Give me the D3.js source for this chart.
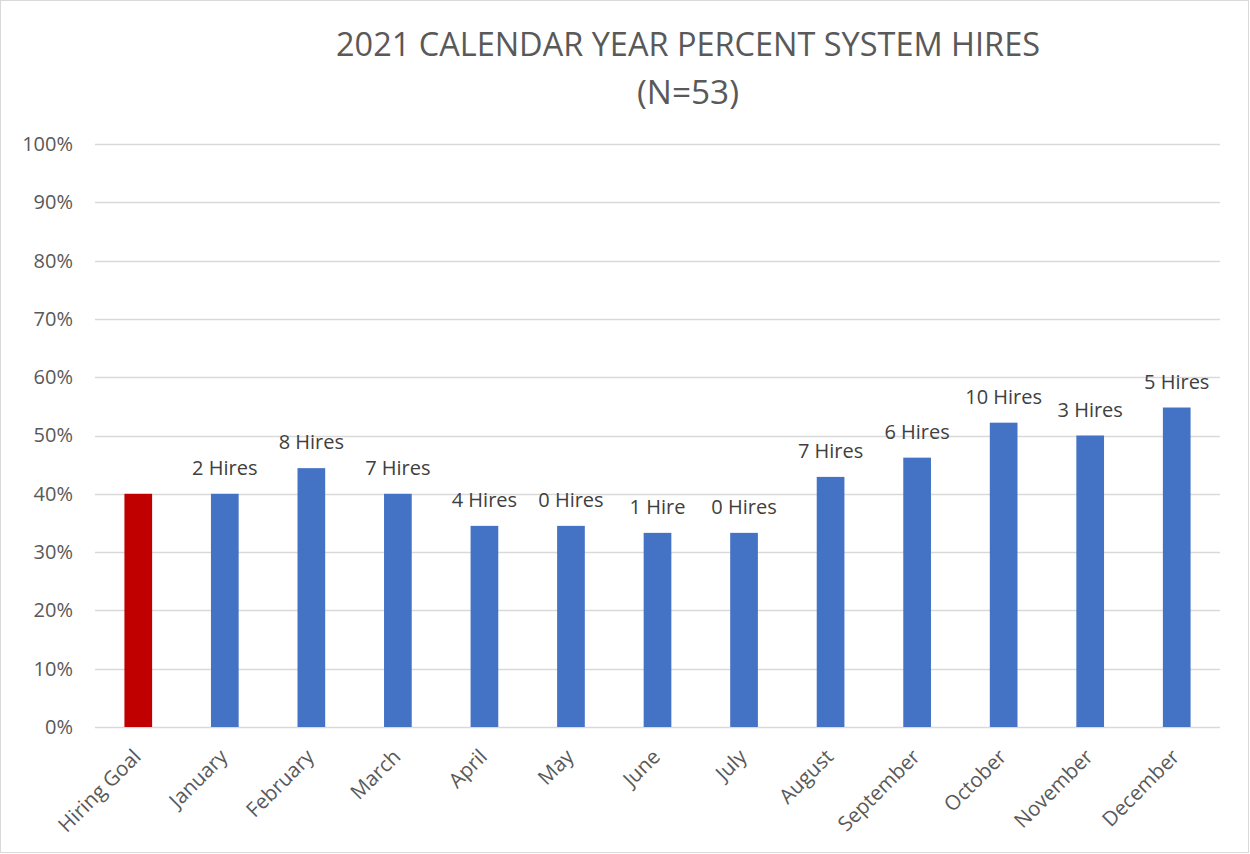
<!DOCTYPE html>
<html><head><meta charset="utf-8">
<script src="https://cdn.jsdelivr.net/npm/d3@7"></script>
<style>body{margin:0;background:#fff;}svg{display:block;}</style>
</head><body>
<svg id="chart" width="1250" height="854"></svg>
<script>
const categories = ["Hiring Goal","January","February","March","April","May","June","July","August","September","October","November","December"];
const percentValues = [40, 40, 44.4, 40, 34.5, 34.5, 33.3, 33.3, 42.9, 46.2, 52.2, 50, 54.8];
const hireLabels = ["", "2 Hires","8 Hires","7 Hires","4 Hires","0 Hires","1 Hire","0 Hires","7 Hires","6 Hires","10 Hires","3 Hires","5 Hires"];
const yTicks = [0,10,20,30,40,50,60,70,80,90,100];
const titleLines = ["2021 CALENDAR YEAR PERCENT SYSTEM HIRES", "(N=53)"];

const svg = d3.select("#chart");
const font = "'Open Sans', sans-serif";

svg.append("rect").attr("x",0.5).attr("y",0.5).attr("width",1248).attr("height",852)
  .attr("fill","#fff").attr("stroke","#d9d9d9");

const x = d3.scaleBand().domain(categories).range([95,1220]).paddingInner(0.68).paddingOuter(0.34);
const y = d3.scaleLinear().domain([0,100]).range([727,144]);

// gridlines
svg.append("g").selectAll("line").data(yTicks).join("line")
  .attr("x1",95).attr("x2",1220)
  .attr("y1",d=>Math.round(y(d))+0.5).attr("y2",d=>Math.round(y(d))+0.5)
  .attr("stroke","#d9d9d9").attr("stroke-width",1.3);

// y axis labels
const yAxis = d3.axisLeft(y).tickValues(yTicks).tickFormat(d=>d+"%").tickSize(0).tickPadding(0);
const ya = svg.append("g").attr("transform","translate(73,0)").call(yAxis);
ya.select(".domain").remove();
ya.selectAll("text").attr("font-family",font).attr("font-size",20).attr("fill","#595959");

// bars
svg.append("g").selectAll("rect").data(categories).join("rect")
  .attr("x",d=>x(d)).attr("width",x.bandwidth())
  .attr("y",(d,i)=>y(percentValues[i]))
  .attr("height",(d,i)=>y(0)-y(percentValues[i]))
  .attr("fill",(d,i)=>i===0?"#C00000":"#4472C4");

// data labels
svg.append("g").selectAll("text").data(categories).join("text")
  .attr("x",d=>x(d)+x.bandwidth()/2)
  .attr("y",(d,i)=>y(percentValues[i])-19)
  .attr("text-anchor","middle")
  .attr("font-family",font).attr("font-size",20).attr("fill","#404040")
  .text((d,i)=>hireLabels[i]);

// x axis labels
const xAxis = d3.axisBottom(x).tickSize(0).tickPadding(0);
const xa = svg.append("g").attr("transform","translate(0,727)").call(xAxis);
xa.select(".domain").remove();
xa.selectAll("text")
  .attr("font-family",font).attr("font-size",20.5).attr("fill","#595959")
  .attr("text-anchor","end").attr("dy",null).attr("y",0)
  .attr("transform","translate(4,31) rotate(-45)");

// title
svg.append("g").selectAll("text").data(titleLines).join("text")
  .attr("x",688).attr("y",(d,i)=>56+i*48)
  .attr("text-anchor","middle")
  .attr("font-family",font).attr("font-size",32).attr("fill","#595959")
  .attr("textLength",(d,i)=>i===0?704:102).attr("lengthAdjust","spacingAndGlyphs")
  .text(d=>d);
</script>
</body></html>
